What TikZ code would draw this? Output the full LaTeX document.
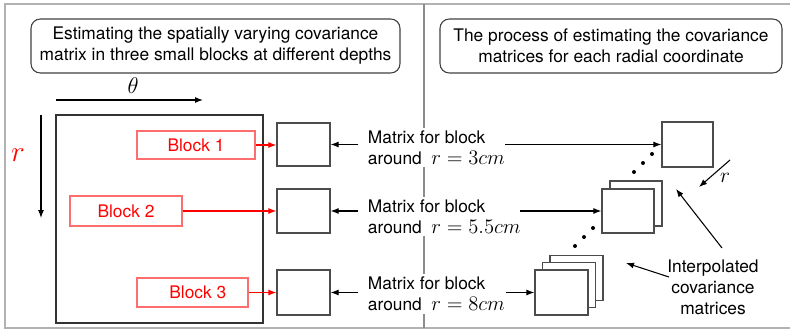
\RequirePackage{fix-cm}
\documentclass[tikz,border=0pt]{standalone}
\usepackage{fontspec}
\setmainfont{TeX Gyre Heros}
\usetikzlibrary{arrows.meta}
\definecolor{bred}{RGB}{255,0,0}
\definecolor{bredline}{RGB}{255,110,110}
\newcommand\mymth[1]{{\fontsize{15.5}{15.75}\selectfont$#1$}}
\tikzset{
  x=0.75pt, y=-0.75pt,
  every node/.style={font=\fontsize{13}{15.75}\selectfont},
  titlebox/.style={draw=black!75, line width=0.8pt, rounded corners=7pt, align=center, inner sep=0pt},
  mbox/.style={draw=black!70, line width=0.9pt, fill=white, inner sep=0pt, minimum width=53*0.75pt, minimum height=45*0.75pt},
  blockbox/.style={draw=bredline, line width=0.8pt, text=bred, inner sep=0pt},
  txt/.style={fill=white, align=left, inner sep=2pt},
  arr/.style={-{Latex[length=6pt,width=4.5pt]}, line width=0.8pt, black},
  redarr/.style={-{Latex[length=6pt,width=4.5pt]}, line width=0.8pt, bred},
  dotc/.style={circle, fill=black, inner sep=0pt, minimum size=4*0.75pt},
}
\begin{document}
\begin{tikzpicture}
\useasboundingbox (0,0) rectangle (790,329);
% frame and divider
\draw[black!30, line width=1pt] (791,4) -- (5,4) -- (5,328) -- (791,328);
\draw[black!45, line width=1.3pt] (424,4) -- (424,328);

% titles
\node[titlebox, minimum width=369*0.75pt, minimum height=54*0.75pt] (tl) at (215.5,46)
  {Estimating the spatially varying covariance\\matrix in three small blocks at different depths};
\node[titlebox, minimum width=342*0.75pt, minimum height=54*0.75pt] (tr) at (611,46)
  {The process of estimating the covariance\\matrices for each radial coordinate};

% theta and r axes
\coordinate (th0) at (56,100);
\coordinate (th1) at (203,100);
\draw[arr] (th0) -- (th1);
\node (thl) at (133,86) {\fontsize{17}{18}\selectfont$\theta$};
\coordinate (r0) at (41,115);
\coordinate (r1) at (41,218);
\draw[arr] (r0) -- (r1);
\node[text=bred] (rl) at (18,155) {\fontsize{22}{24}\selectfont$r$};

% big region
\node[draw=black!80, line width=0.9pt, inner sep=0pt, minimum width=207*0.75pt, minimum height=208*0.75pt] (big) at (159.5,219) {};

% blocks
\node[blockbox, minimum width=118*0.75pt, minimum height=28*0.75pt] (b1) at (196,145) {Block 1};
\node[blockbox, minimum width=112*0.75pt, minimum height=30*0.75pt] (b2) at (126,211) {Block 2};
\node[blockbox, minimum width=111*0.75pt, minimum height=29*0.75pt] (b3) at (192.5,292.5) {\hspace*{8pt}Block 3};

% small matrices
\node[mbox, minimum height=43*0.75pt] (m1) at (303.5,144.5) {};
\node[mbox, minimum height=44*0.75pt] (m2) at (303.5,211) {};
\node[mbox] (m3) at (303.5,292.5) {};

\draw[redarr] (b1.east) -- (b1.east -| m1.west);
\draw[redarr] (b2.east) -- (b2.east -| m2.west);
\draw[redarr] (b3.east) -- (b3.east -| m3.west);

% texts
\node[txt, anchor=west] (t1) at (365,147.5) {Matrix for block\\around\ \ \mymth{r=3cm}};
\node[txt, anchor=west] (t2) at (365,216.5) {Matrix for block\\around\ \ \mymth{r=5.5cm}};
\node[txt, anchor=west] (t3) at (365,294) {Matrix for block\\around\ \ \mymth{r=8cm}};

\draw[arr, shorten <=5pt] (t1.west |- m1.east) -- (m1.east);
\draw[arr, shorten <=5pt] (t2.west |- m2.east) -- (m2.east);
\draw[arr, shorten <=5pt] (t3.west |- m3.east) -- (m3.east);

% right stacks
\node[mbox, minimum width=51*0.75pt] (R1) at (687.5,144.5) {};
\node[mbox, minimum width=52*0.75pt] (R2b) at (636,203.5) {};
\node[mbox, minimum width=52*0.75pt, minimum height=44*0.75pt] (R2) at (628,211) {};
\node[mbox] (R3c) at (576.5,278) {};
\node[mbox] (R3b) at (569,285) {};
\node[mbox] (R3) at (561.5,292.5) {};

\coordinate (s1) at (505,144.5);
\coordinate (s2) at (520,211);
\coordinate (s3) at (506,292.5);
\draw[arr] (s1) -- (R1.west);
\draw[arr] (s2) -- (R2.west);
\draw[arr] (s3) -- (R3.west);

% dots
\node[dotc] (d1) at (652,154) {};
\node[dotc] (d2) at (643,163) {};
\node[dotc] (d3) at (634,172) {};
\node[dotc] (d4) at (593,228) {};
\node[dotc] (d5) at (584,237) {};
\node[dotc] (d6) at (575,246) {};

% r arrow
\coordinate (ra0) at (730,160);
\coordinate (ra1) at (699,187);
\draw[arr] (ra0) -- (ra1);
\node (rr) at (725,178) {\fontsize{16}{17}\selectfont$r$};

% interpolated
\node[align=center, inner sep=1pt] (ip) at (713,287) {Interpolated\\covariance\\matrices};
\coordinate (ia1) at (722,248);
\coordinate (ib1) at (676,189);
\coordinate (ia2) at (669,277);
\coordinate (ib2) at (626,263);
\draw[arr] (ia1) -- (ib1);
\draw[arr] (ia2) -- (ib2);
\end{tikzpicture}
\end{document}
